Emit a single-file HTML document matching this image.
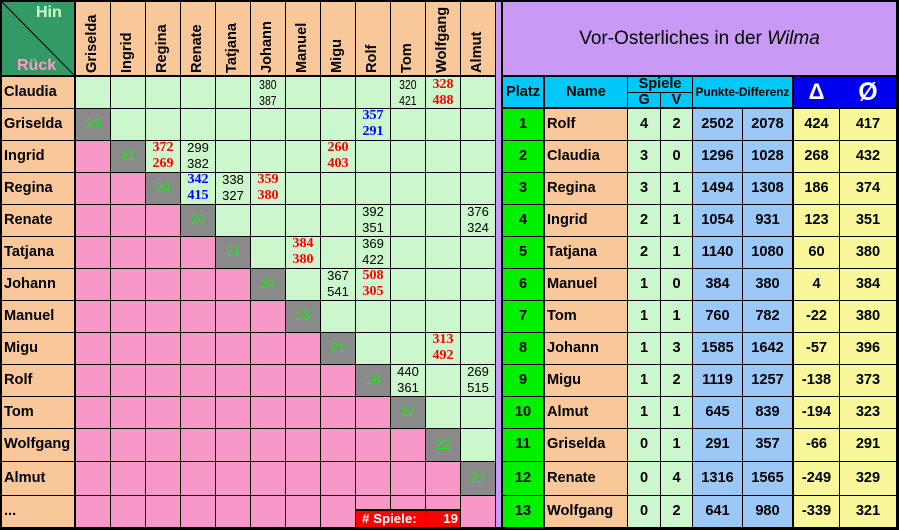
<!DOCTYPE html>
<html><head><meta charset="utf-8">
<style>
*{margin:0;padding:0;box-sizing:border-box}
body{width:899px;height:531px;position:relative;overflow:hidden;background:#fff;font-family:"Liberation Sans",Arial,sans-serif;color:#000}
div{position:absolute}
.k{background:#000}
.L{left:4px;width:70px;font-weight:bold;font-size:14.6px;white-space:nowrap}
.ch{top:73px;transform:rotate(-90deg);transform-origin:0 0;font-weight:bold;font-size:14.6px;line-height:16px;white-space:nowrap}
.n{width:34px;height:31px;line-height:15.5px;text-align:center;font-size:13px}
.n span{display:inline-block}
.nw span{transform:scaleX(.8)}
.r{font-family:"Liberation Serif",serif;font-weight:bold;font-size:14px;color:#f00}
.b{font-family:"Liberation Serif",serif;font-weight:bold;font-size:14px;color:#00f}
.g{width:34px;text-align:center;font-size:13px;color:#00f800}
.row{left:0;width:899px;font-weight:bold;font-size:14.6px}
.row div{top:0;text-align:center;white-space:nowrap}
.row .p{left:503px;width:40px}
.row .nm{left:547px;width:80px;text-align:left}
.row .gg{left:628px;width:32px}
.row .vv{left:661px;width:31px}
.row .p1{left:693px;width:49px}
.row .p2{left:743px;width:49px}
.row .d{left:794px;width:45px}
.row .o{left:840px;width:56px}
</style></head><body>

<!-- LEFT FILLS -->
<div style="left:0;top:0;width:75px;height:76px;background:#339966"></div>
<div style="left:75px;top:0;width:420px;height:76px;background:#F9C89A"></div>
<div style="left:0;top:76px;width:75px;height:452px;background:#F9C89A"></div>
<div style="left:75px;top:76px;width:420px;height:452px;background:#CCF7CC"></div>

<!-- pink -->
<div style="left:75px;top:140px;width:35px;height:32px;background:#F898C8"></div>
<div style="left:75px;top:172px;width:70px;height:32px;background:#F898C8"></div>
<div style="left:75px;top:204px;width:105px;height:32px;background:#F898C8"></div>
<div style="left:75px;top:236px;width:140px;height:32px;background:#F898C8"></div>
<div style="left:75px;top:268px;width:175px;height:32px;background:#F898C8"></div>
<div style="left:75px;top:300px;width:210px;height:32px;background:#F898C8"></div>
<div style="left:75px;top:332px;width:245px;height:32px;background:#F898C8"></div>
<div style="left:75px;top:364px;width:280px;height:32px;background:#F898C8"></div>
<div style="left:75px;top:396px;width:315px;height:32px;background:#F898C8"></div>
<div style="left:75px;top:428px;width:350px;height:33px;background:#F898C8"></div>
<div style="left:75px;top:461px;width:385px;height:34px;background:#F898C8"></div>
<div style="left:75px;top:495px;width:420px;height:33px;background:#F898C8"></div>

<!-- gray diagonal -->
<div style="left:75px;top:108px;width:35px;height:32px;background:#8A8A8A"></div>
<div style="left:110px;top:140px;width:35px;height:32px;background:#8A8A8A"></div>
<div style="left:145px;top:172px;width:35px;height:32px;background:#8A8A8A"></div>
<div style="left:180px;top:204px;width:35px;height:32px;background:#8A8A8A"></div>
<div style="left:215px;top:236px;width:35px;height:32px;background:#8A8A8A"></div>
<div style="left:250px;top:268px;width:35px;height:32px;background:#8A8A8A"></div>
<div style="left:285px;top:300px;width:35px;height:32px;background:#8A8A8A"></div>
<div style="left:320px;top:332px;width:35px;height:32px;background:#8A8A8A"></div>
<div style="left:355px;top:364px;width:35px;height:32px;background:#8A8A8A"></div>
<div style="left:390px;top:396px;width:35px;height:32px;background:#8A8A8A"></div>
<div style="left:425px;top:428px;width:35px;height:33px;background:#8A8A8A"></div>
<div style="left:460px;top:461px;width:35px;height:34px;background:#8A8A8A"></div>

<!-- purple strip + title -->
<div style="left:495px;top:0;width:7px;height:530px;background:#C89AF6"></div>
<div style="left:501px;top:0;width:398px;height:76px;background:#C89AF6"></div>

<!-- RIGHT FILLS -->
<div style="left:501px;top:76px;width:292px;height:32px;background:#00C8F8"></div>
<div style="left:792px;top:76px;width:107px;height:32px;background:#0000F0"></div>
<div style="left:501px;top:108px;width:43px;height:420px;background:#00F000"></div>
<div style="left:544px;top:108px;width:84px;height:420px;background:#F9C89A"></div>
<div style="left:628px;top:108px;width:65px;height:420px;background:#CCF7CC"></div>
<div style="left:693px;top:108px;width:100px;height:420px;background:#9CC8F8"></div>
<div style="left:793px;top:108px;width:106px;height:420px;background:#F8F89A"></div>

<!-- corner diagonal -->
<svg style="position:absolute;left:0;top:0" width="76" height="77"><line x1="2" y1="2" x2="74" y2="75" stroke="#000" stroke-width="1"/></svg>

<!-- LEFT LINES -->
<div class="k" style="left:0;top:0;width:2px;height:530px"></div>
<div class="k" style="left:74px;top:0;width:2px;height:530px"></div>
<div class="k" style="left:110px;top:0;width:1px;height:530px"></div>
<div class="k" style="left:145px;top:0;width:1px;height:530px"></div>
<div class="k" style="left:180px;top:0;width:1px;height:530px"></div>
<div class="k" style="left:215px;top:0;width:1px;height:530px"></div>
<div class="k" style="left:250px;top:0;width:1px;height:530px"></div>
<div class="k" style="left:285px;top:0;width:1px;height:530px"></div>
<div class="k" style="left:320px;top:0;width:1px;height:530px"></div>
<div class="k" style="left:355px;top:0;width:1px;height:530px"></div>
<div class="k" style="left:390px;top:0;width:1px;height:530px"></div>
<div class="k" style="left:425px;top:0;width:1px;height:530px"></div>
<div class="k" style="left:460px;top:0;width:1px;height:530px"></div>
<div class="k" style="left:495px;top:0;width:1px;height:530px"></div>
<div class="k" style="left:0;top:0;width:899px;height:2px"></div>
<div class="k" style="left:0;top:75px;width:496px;height:2px"></div>
<div class="k" style="left:501px;top:75px;width:398px;height:2px"></div>
<div class="k" style="left:501px;top:107px;width:398px;height:2px"></div>

<!-- horizontal row lines (left + right) -->
<div class="k" style="left:0;top:108px;width:496px;height:1px"></div>
<div class="k" style="left:0;top:140px;width:496px;height:1px"></div>
<div class="k" style="left:0;top:172px;width:496px;height:1px"></div>
<div class="k" style="left:0;top:204px;width:496px;height:1px"></div>
<div class="k" style="left:0;top:236px;width:496px;height:1px"></div>
<div class="k" style="left:0;top:268px;width:496px;height:1px"></div>
<div class="k" style="left:0;top:300px;width:496px;height:1px"></div>
<div class="k" style="left:0;top:332px;width:496px;height:1px"></div>
<div class="k" style="left:0;top:364px;width:496px;height:1px"></div>
<div class="k" style="left:0;top:396px;width:496px;height:1px"></div>
<div class="k" style="left:0;top:428px;width:496px;height:1px"></div>
<div class="k" style="left:0;top:461px;width:496px;height:1px"></div>
<div class="k" style="left:0;top:495px;width:496px;height:1px"></div>
<div class="k" style="left:501px;top:140px;width:398px;height:1px"></div>
<div class="k" style="left:501px;top:172px;width:398px;height:1px"></div>
<div class="k" style="left:501px;top:204px;width:398px;height:1px"></div>
<div class="k" style="left:501px;top:236px;width:398px;height:1px"></div>
<div class="k" style="left:501px;top:268px;width:398px;height:1px"></div>
<div class="k" style="left:501px;top:300px;width:398px;height:1px"></div>
<div class="k" style="left:501px;top:332px;width:398px;height:1px"></div>
<div class="k" style="left:501px;top:364px;width:398px;height:1px"></div>
<div class="k" style="left:501px;top:396px;width:398px;height:1px"></div>
<div class="k" style="left:501px;top:428px;width:398px;height:1px"></div>
<div class="k" style="left:501px;top:461px;width:398px;height:1px"></div>
<div class="k" style="left:501px;top:495px;width:398px;height:1px"></div>
<div class="k" style="left:0;top:527px;width:899px;height:3px"></div>

<!-- RIGHT vertical lines -->
<div class="k" style="left:501px;top:0;width:2px;height:530px"></div>
<div class="k" style="left:543px;top:76px;width:2px;height:452px"></div>
<div class="k" style="left:627px;top:76px;width:1px;height:452px"></div>
<div class="k" style="left:660px;top:92px;width:1px;height:436px"></div>
<div class="k" style="left:692px;top:76px;width:1px;height:452px"></div>
<div class="k" style="left:742px;top:108px;width:1px;height:420px"></div>
<div class="k" style="left:792px;top:76px;width:2px;height:452px"></div>
<div class="k" style="left:839px;top:76px;width:1px;height:452px"></div>
<div class="k" style="left:896px;top:0;width:3px;height:530px"></div>
<div class="k" style="left:627px;top:92px;width:66px;height:1px"></div>

<!-- # Spiele box -->
<div class="k" style="left:355px;top:509px;width:106px;height:2px"></div>
<div style="left:356px;top:511px;width:104px;height:16px;background:#FF0000"></div>
<div class="k" style="left:425px;top:511px;width:1px;height:16px"></div>
<div style="left:362px;top:511px;width:62px;height:16px;line-height:16px;color:#fff;font-weight:bold;font-size:13.3px;white-space:nowrap"># Spiele:</div>
<div style="left:426px;top:511px;width:32px;height:16px;line-height:16px;color:#fff;font-weight:bold;font-size:13.3px;text-align:right">19</div>

<!-- corner text -->
<div style="left:36px;top:5px;font-weight:bold;font-size:16px;line-height:16px;color:#CCFFCC">Hin</div>
<div style="left:17px;top:58px;font-weight:bold;font-size:16px;line-height:16px;color:#FF99CC">Rück</div>

<!-- column headers -->
<div class="ch" style="left:84px">Griselda</div>
<div class="ch" style="left:119px">Ingrid</div>
<div class="ch" style="left:154px">Regina</div>
<div class="ch" style="left:189px">Renate</div>
<div class="ch" style="left:224px">Tatjana</div>
<div class="ch" style="left:259px">Johann</div>
<div class="ch" style="left:294px">Manuel</div>
<div class="ch" style="left:329px">Migu</div>
<div class="ch" style="left:364px">Rolf</div>
<div class="ch" style="left:399px">Tom</div>
<div class="ch" style="left:434px">Wolfgang</div>
<div class="ch" style="left:469px">Almut</div>

<!-- row labels -->
<div class="L" style="top:76px;height:32px;line-height:32px">Claudia</div>
<div class="L" style="top:108px;height:32px;line-height:32px">Griselda</div>
<div class="L" style="top:140px;height:32px;line-height:32px">Ingrid</div>
<div class="L" style="top:172px;height:32px;line-height:32px">Regina</div>
<div class="L" style="top:204px;height:32px;line-height:32px">Renate</div>
<div class="L" style="top:236px;height:32px;line-height:32px">Tatjana</div>
<div class="L" style="top:268px;height:32px;line-height:32px">Johann</div>
<div class="L" style="top:300px;height:32px;line-height:32px">Manuel</div>
<div class="L" style="top:332px;height:32px;line-height:32px">Migu</div>
<div class="L" style="top:364px;height:32px;line-height:32px">Rolf</div>
<div class="L" style="top:396px;height:32px;line-height:32px">Tom</div>
<div class="L" style="top:428px;height:33px;line-height:33px">Wolfgang</div>
<div class="L" style="top:461px;height:34px;line-height:34px">Almut</div>
<div class="L" style="top:495px;height:33px;line-height:33px">...</div>

<!-- diagonal numbers -->
<div class="g" style="left:76px;top:108px;height:32px;line-height:32px">23</div>
<div class="g" style="left:111px;top:140px;height:32px;line-height:32px">21</div>
<div class="g" style="left:146px;top:172px;height:32px;line-height:32px">20</div>
<div class="g" style="left:181px;top:204px;height:32px;line-height:32px">20</div>
<div class="g" style="left:216px;top:236px;height:32px;line-height:32px">21</div>
<div class="g" style="left:251px;top:268px;height:32px;line-height:32px">20</div>
<div class="g" style="left:286px;top:300px;height:32px;line-height:32px">23</div>
<div class="g" style="left:321px;top:332px;height:32px;line-height:32px">21</div>
<div class="g" style="left:356px;top:364px;height:32px;line-height:32px">18</div>
<div class="g" style="left:391px;top:396px;height:32px;line-height:32px">22</div>
<div class="g" style="left:426px;top:428px;height:33px;line-height:33px">22</div>
<div class="g" style="left:461px;top:461px;height:34px;line-height:34px">22</div>

<!-- match results -->
<div class="n nw" style="left:251px;top:77px"><span>380<br>387</span></div>
<div class="n nw" style="left:391px;top:77px"><span>320<br>421</span></div>
<div class="n r" style="left:426px;top:77px"><span>328<br>488</span></div>

<div class="n b" style="left:356px;top:108px"><span>357<br>291</span></div>

<div class="n r" style="left:146px;top:140px"><span>372<br>269</span></div>
<div class="n" style="left:181px;top:140px"><span>299<br>382</span></div>
<div class="n r" style="left:321px;top:140px"><span>260<br>403</span></div>

<div class="n b" style="left:181px;top:172px"><span>342<br>415</span></div>
<div class="n" style="left:216px;top:172px"><span>338<br>327</span></div>
<div class="n r" style="left:251px;top:172px"><span>359<br>380</span></div>

<div class="n" style="left:356px;top:204px"><span>392<br>351</span></div>
<div class="n" style="left:461px;top:204px"><span>376<br>324</span></div>

<div class="n r" style="left:286px;top:236px"><span>384<br>380</span></div>
<div class="n" style="left:356px;top:236px"><span>369<br>422</span></div>

<div class="n" style="left:321px;top:268px"><span>367<br>541</span></div>
<div class="n r" style="left:356px;top:268px"><span>508<br>305</span></div>

<div class="n r" style="left:426px;top:332px"><span>313<br>492</span></div>

<div class="n" style="left:391px;top:364px"><span>440<br>361</span></div>
<div class="n" style="left:461px;top:364px"><span>269<br>515</span></div>

<!-- title -->
<div style="left:503px;top:2px;width:393px;height:73px;line-height:73px;text-align:center;font-size:19px;white-space:nowrap">Vor-Osterliches in der <i>Wilma</i></div>

<!-- right header -->
<div style="left:503px;top:77px;width:40px;height:30px;line-height:30px;text-align:center;font-weight:bold;font-size:14.6px">Platz</div>
<div style="left:545px;top:77px;width:82px;height:30px;line-height:30px;text-align:center;font-weight:bold;font-size:14.6px">Name</div>
<div style="left:628px;top:77px;width:64px;height:15px;line-height:15px;text-align:center;font-weight:bold;font-size:14.6px">Spiele</div>
<div style="left:628px;top:93px;width:32px;height:15px;line-height:15px;text-align:center;font-weight:bold;font-size:14.6px">G</div>
<div style="left:661px;top:93px;width:31px;height:15px;line-height:15px;text-align:center;font-weight:bold;font-size:14.6px">V</div>
<div style="left:693px;top:77px;width:99px;height:30px;line-height:30px;text-align:center;font-weight:bold;font-size:11.8px;white-space:nowrap">Punkte-Differenz</div>
<div style="left:794px;top:77px;width:45px;height:30px;line-height:30px;text-align:center;font-weight:bold;font-size:22px;color:#fff">Δ</div>
<div style="left:840px;top:77px;width:56px;height:30px;line-height:30px;text-align:center;font-weight:bold;font-size:25px;color:#fff">Ø</div>

<!-- right body -->
<div class="row" style="top:108px;height:32px;line-height:32px"><div class="p">1</div><div class="nm">Rolf</div><div class="gg">4</div><div class="vv">2</div><div class="p1">2502</div><div class="p2">2078</div><div class="d">424</div><div class="o">417</div></div>
<div class="row" style="top:140px;height:32px;line-height:32px"><div class="p">2</div><div class="nm">Claudia</div><div class="gg">3</div><div class="vv">0</div><div class="p1">1296</div><div class="p2">1028</div><div class="d">268</div><div class="o">432</div></div>
<div class="row" style="top:172px;height:32px;line-height:32px"><div class="p">3</div><div class="nm">Regina</div><div class="gg">3</div><div class="vv">1</div><div class="p1">1494</div><div class="p2">1308</div><div class="d">186</div><div class="o">374</div></div>
<div class="row" style="top:204px;height:32px;line-height:32px"><div class="p">4</div><div class="nm">Ingrid</div><div class="gg">2</div><div class="vv">1</div><div class="p1">1054</div><div class="p2">931</div><div class="d">123</div><div class="o">351</div></div>
<div class="row" style="top:236px;height:32px;line-height:32px"><div class="p">5</div><div class="nm">Tatjana</div><div class="gg">2</div><div class="vv">1</div><div class="p1">1140</div><div class="p2">1080</div><div class="d">60</div><div class="o">380</div></div>
<div class="row" style="top:268px;height:32px;line-height:32px"><div class="p">6</div><div class="nm">Manuel</div><div class="gg">1</div><div class="vv">0</div><div class="p1">384</div><div class="p2">380</div><div class="d">4</div><div class="o">384</div></div>
<div class="row" style="top:300px;height:32px;line-height:32px"><div class="p">7</div><div class="nm">Tom</div><div class="gg">1</div><div class="vv">1</div><div class="p1">760</div><div class="p2">782</div><div class="d">-22</div><div class="o">380</div></div>
<div class="row" style="top:332px;height:32px;line-height:32px"><div class="p">8</div><div class="nm">Johann</div><div class="gg">1</div><div class="vv">3</div><div class="p1">1585</div><div class="p2">1642</div><div class="d">-57</div><div class="o">396</div></div>
<div class="row" style="top:364px;height:32px;line-height:32px"><div class="p">9</div><div class="nm">Migu</div><div class="gg">1</div><div class="vv">2</div><div class="p1">1119</div><div class="p2">1257</div><div class="d">-138</div><div class="o">373</div></div>
<div class="row" style="top:396px;height:32px;line-height:32px"><div class="p">10</div><div class="nm">Almut</div><div class="gg">1</div><div class="vv">1</div><div class="p1">645</div><div class="p2">839</div><div class="d">-194</div><div class="o">323</div></div>
<div class="row" style="top:428px;height:33px;line-height:33px"><div class="p">11</div><div class="nm">Griselda</div><div class="gg">0</div><div class="vv">1</div><div class="p1">291</div><div class="p2">357</div><div class="d">-66</div><div class="o">291</div></div>
<div class="row" style="top:461px;height:34px;line-height:34px"><div class="p">12</div><div class="nm">Renate</div><div class="gg">0</div><div class="vv">4</div><div class="p1">1316</div><div class="p2">1565</div><div class="d">-249</div><div class="o">329</div></div>
<div class="row" style="top:495px;height:33px;line-height:33px"><div class="p">13</div><div class="nm">Wolfgang</div><div class="gg">0</div><div class="vv">2</div><div class="p1">641</div><div class="p2">980</div><div class="d">-339</div><div class="o">321</div></div>

</body></html>
